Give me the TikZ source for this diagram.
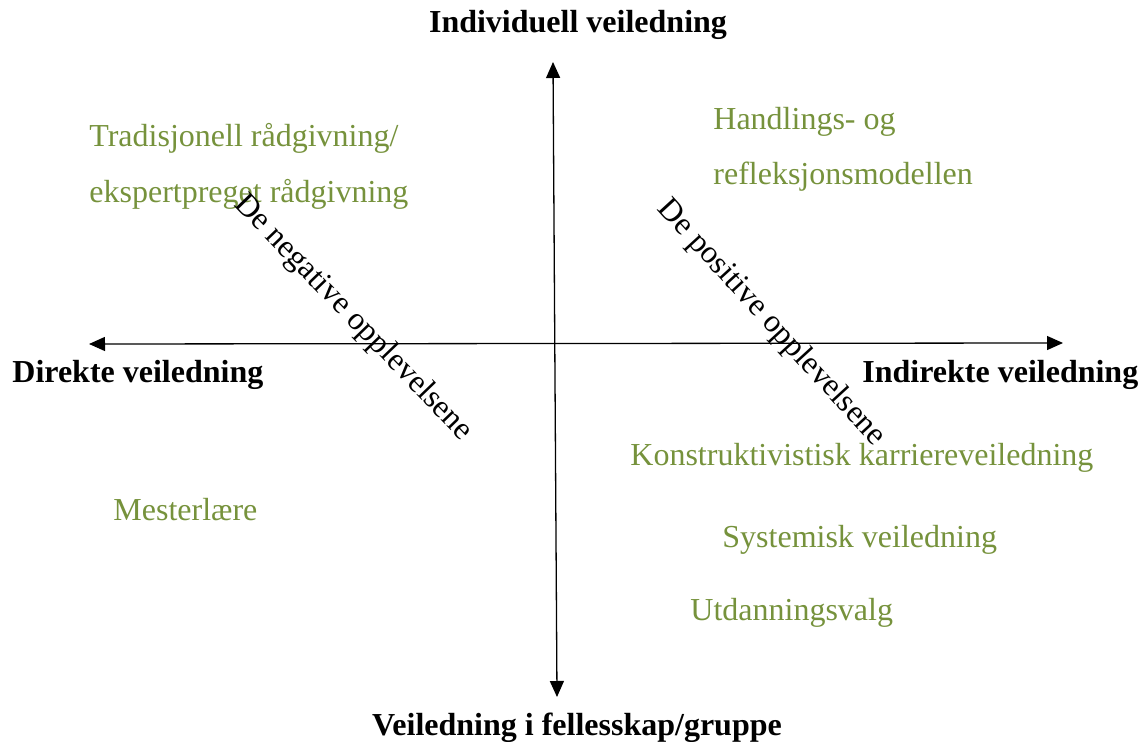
\documentclass[tikz,border=0pt]{standalone}
\usepackage{fontspec}
\setmainfont{Liberation Serif}
\usetikzlibrary{arrows.meta,positioning}
\definecolor{olive}{HTML}{76923C}
\tikzset{axis/.style={line width=0.65pt, {Triangle[length=8pt,width=7pt]}-{Triangle[length=8pt,width=7pt]}}}
\tikzset{pole/.style={font=\fontsize{16}{19}\selectfont\bfseries, inner sep=0pt, anchor=base west}}
\tikzset{method/.style={font=\fontsize{16}{19}\selectfont, text=olive, inner sep=0pt, anchor=base west}}
\tikzset{feeling/.style={font=\fontsize{16}{19}\selectfont, inner sep=0pt}}

\begin{document}
\begin{tikzpicture}[x=0.5pt, y=-0.5pt]
    \useasboundingbox (0,0) rectangle (1144,742);

    % ends of the two axes
    \coordinate (N) at (553,62);
    \coordinate (S) at (557,697);
    \coordinate (W) at (89,344);
    \coordinate (E) at (1063,343);

    \node[pole, anchor=base] (indiv) at (578,33) {Individuell veiledning};
    \node[pole, anchor=base] (group) at (577,735) {Veiledning i fellesskap/gruppe};
    \node[pole] (direct) at (12,383) {Direkte veiledning};
    \node[pole] (indirect) at (862,383) {Indirekte veiledning};

    \node[method] (trad1) at (89,147) {Tradisjonell rådgivning/};
    \node[method] (trad2) at (89,203) {ekspertpreget rådgivning};
    \node[method] (refl1) at (713,130) {Handlings- og};
    \node[method] (refl2) at (713,185) {refleksjonsmodellen};
    \node[method] (konstr) at (630,466) {Konstruktivistisk karriereveiledning};
    \node[method] (mester) at (113,520) {Mesterlære};
    \node[method] (system) at (722,547) {Systemisk veiledning};
    \node[method] (utdan) at (690,620) {Utdanningsvalg};

    \draw[axis] (W) -- (E);
    \draw[axis] (N) -- (S);

    \node[feeling, rotate=-46] (neg) at (353,318) {De negative opplevelsene};
    \node[feeling, rotate=-47.5] (pos) at (771,323) {De positive opplevelsene};
  \end{tikzpicture}
\end{document}
